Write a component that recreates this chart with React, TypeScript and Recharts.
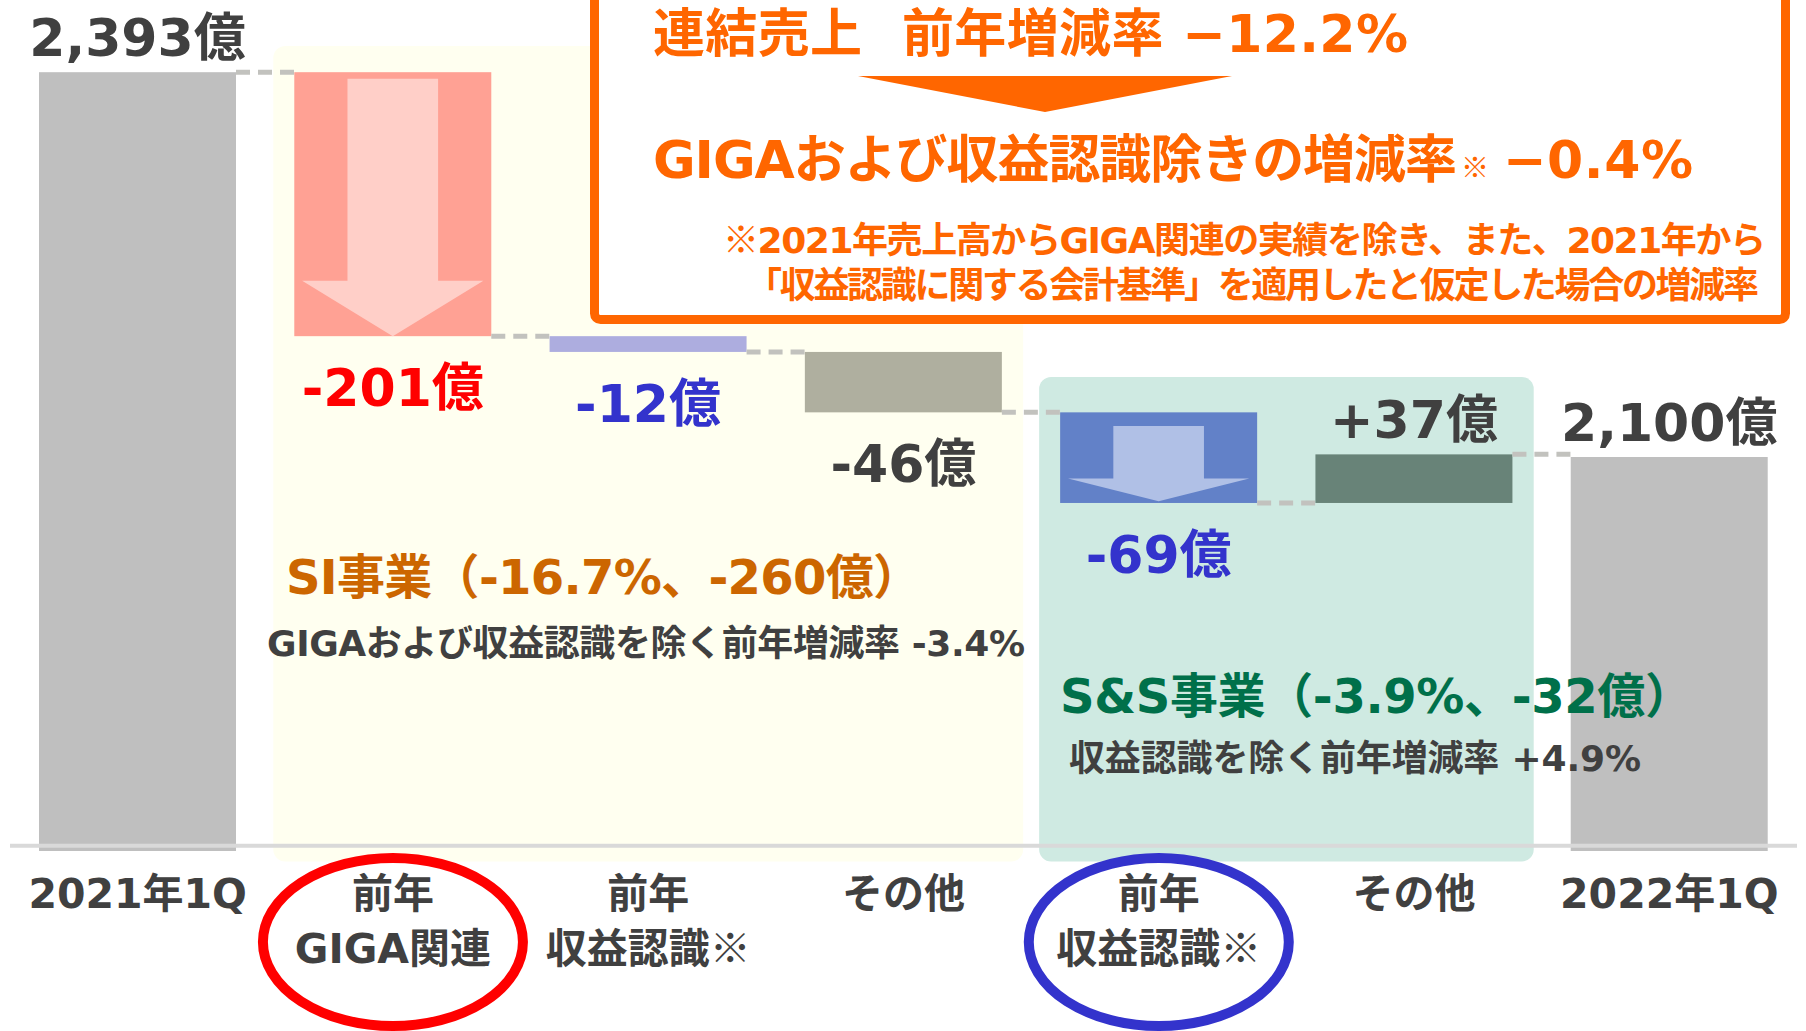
import React from 'react';
import { BarChart, Bar, XAxis, YAxis, ReferenceArea, ReferenceLine } from 'recharts';

// Latin/digits from DejaVu (close to the Meiryo look), kana/kanji fall back to Noto CJK
const FONT = "'DejaVu Sans', 'Noto Sans CJK JP', sans-serif";
const CJK = "'Noto Sans CJK JP', sans-serif";

// 億円, 2021年1Q → 2022年1Q
const categories = ['2021年1Q', '前年\nGIGA関連', '前年\n収益認識※', 'その他', '前年\n収益認識※', 'その他', '2022年1Q'];
const changes = [2393, -201, -12, -46, -69, 37, 2100];
const isTotal = [true, false, false, false, false, false, true];
const valueLabels = ['2,393億', '-201億', '-12億', '-46億', '-69億', '+37億', '2,100億'];

const barColors = ['#BFBFBF', '#FFA194', '#ADADDF', '#AFAF9F', '#6281C8', '#688378', '#BFBFBF'];
const labelColors = ['#404040', '#FF0000', '#3333CC', '#404040', '#3333CC', '#404040', '#404040'];
const arrowColors = ['', '#FFCFC8', '', '', '#B0C0E6', '', ''];
const circleColors = ['', '#FF0000', '', '', '#3333CC', '', ''];

// y axis is cut: it starts at 1,800億
const axisMin = 1800;
const axisMax = 2400;
const baseLineValue = 1804;

// segment boxes (category keys, value range)
const siBox = { from: 'c1', to: 'c3', low: 1792, high: 2413 };
const ssBox = { from: 'c4', to: 'c5', low: 1792, high: 2161 };

const BAR_GAP = 29;

// arrow proportions inside the "前年" bars
const arrowForm: Record<number, { shaftTop: number; headTop: number; tip: number }> = {
  1: { shaftTop: 0.025, headTop: 0.79, tip: 1.0 },
  4: { shaftTop: 0.15, headTop: 0.73, tip: 0.98 },
};

let running = 0;
const data = categories.map((name, i) => {
  const key = `c${i}`;
  if (isTotal[i]) {
    running = changes[i];
    return { key, name, value: changes[i], endTop: true };
  }
  const start = running;
  const end = running + changes[i];
  running = end;
  return { key, name, value: [Math.min(start, end), Math.max(start, end)], endTop: changes[i] > 0 };
});

// ※ should come from the CJK font, not DejaVu
const withMark = (t: string) =>
  t.split('※').flatMap((part, k) =>
    k === 0 ? [part] : [<tspan key={k} fontFamily={CJK}>※</tspan>, part]
  );

const WaterfallBar = (props: any) => {
  const { x, y, width, height, index, payload } = props;
  const top = Math.min(y, y + height);
  const h = Math.abs(height);
  const endY = payload.endTop ? top : top + h;
  const form = arrowForm[index];
  const cx = x + width / 2;
  return (
    <g>
      <rect x={x} y={top} width={width} height={h} fill={barColors[index]} />
      {form && arrowColors[index] && (
        <polygon
          fill={arrowColors[index]}
          points={[
            [x + width * 0.27, top + h * form.shaftTop],
            [x + width * 0.73, top + h * form.shaftTop],
            [x + width * 0.73, top + h * form.headTop],
            [x + width * 0.96, top + h * form.headTop],
            [cx, top + h * form.tip],
            [x + width * 0.04, top + h * form.headTop],
            [x + width * 0.27, top + h * form.headTop],
          ]
            .map((p) => p.join(','))
            .join(' ')}
        />
      )}
      {index < categories.length - 1 && (
        <line
          x1={x + width}
          x2={x + width + BAR_GAP * 2}
          y1={endY}
          y2={endY}
          stroke="#C2C2BE"
          strokeWidth={5}
          strokeDasharray="14 8"
        />
      )}
      <text
        x={cx}
        y={payload.endTop ? top - 16 : top + h + 70}
        textAnchor="middle"
        fontFamily={FONT}
        fontWeight={700}
        fontSize={52}
        fill={labelColors[index]}
      >
        {valueLabels[index]}
      </text>
    </g>
  );
};

const CategoryTick = (props: any) => {
  const { x, y, payload } = props;
  const i = payload.index ?? props.index;
  const lines = categories[i].split('\n');
  return (
    <g>
      {circleColors[i] && (
        <ellipse cx={x} cy={y + 91} rx={130} ry={84} fill="none" stroke={circleColors[i]} strokeWidth={10} />
      )}
      {lines.map((t, k) => (
        <text
          key={k}
          x={x}
          y={y + 57 + k * 55}
          textAnchor="middle"
          fontFamily={FONT}
          fontWeight={700}
          fontSize={41}
          fill="#404040"
        >
          {withMark(t)}
        </text>
      ))}
    </g>
  );
};

const roundedBox = (fill: string) => (p: any) => (
  <rect x={p.x + 8} y={p.y} width={p.width - 16} height={p.height} rx={12} fill={fill} />
);

const orange = '#FF6600';

export default function App() {
  return (
    <div style={{ position: 'absolute', left: 0, top: 0, width: 1806, height: 1031, background: '#fff' }}>
      <BarChart
        width={1806}
        height={1031}
        data={data}
        margin={{ top: 63, right: 9, bottom: 0, left: 10 }}
        barCategoryGap={BAR_GAP}
      >
        <XAxis
          dataKey="key"
          height={180}
          axisLine={false}
          tickLine={false}
          tickSize={0}
          tickMargin={0}
          interval={0}
          tick={<CategoryTick />}
        />
        <YAxis hide type="number" domain={[axisMin, axisMax]} />
        <ReferenceArea
          x1={siBox.from}
          x2={siBox.to}
          y1={siBox.low}
          y2={siBox.high}
          ifOverflow="visible"
          shape={roundedBox('#FFFFF0')}
        />
        <ReferenceArea
          x1={ssBox.from}
          x2={ssBox.to}
          y1={ssBox.low}
          y2={ssBox.high}
          ifOverflow="visible"
          shape={roundedBox('#CFEAE2')}
        />
        <Bar dataKey="value" isAnimationActive={false} shape={<WaterfallBar />} />
        <ReferenceLine y={baseLineValue} stroke="#D9D9D9" strokeWidth={4} />
      </BarChart>

      <svg
        width={1806}
        height={1031}
        style={{ position: 'absolute', left: 0, top: 0, pointerEvents: 'none' }}
        fontFamily={FONT}
        fontWeight={700}
      >
        {/* callout */}
        <rect x={594.5} y={-20} width={1191} height={339.5} rx={6} fill="#fff" stroke={orange} strokeWidth={9} />
        <text x={653} y={52} fontSize={52} fill={orange} textLength={209} lengthAdjust="spacing">
          連結売上
        </text>
        <text x={902} y={52} fontSize={52} fill={orange} textLength={506} lengthAdjust="spacing">
          前年増減率 −12.2%
        </text>
        <polygon points="858,76 1232,76 1045,112" fill={orange} />
        <text x={653} y={178} fontSize={52} fill={orange} textLength={804} lengthAdjust="spacing">
          GIGAおよび収益認識除きの増減率
        </text>
        <text x={1461} y={178} fontSize={28} fill={orange} fontFamily={CJK}>
          ※
        </text>
        <text x={1503} y={178} fontSize={52} fill={orange} textLength={190} lengthAdjust="spacing">
          −0.4%
        </text>
        <text x={723} y={253} fontSize={36} fill={orange} textLength={1043} lengthAdjust="spacing">
          {withMark('※2021年売上高からGIGA関連の実績を除き、また、2021年から')}
        </text>
        <text x={746} y={298} fontSize={36} fill={orange} textLength={1013} lengthAdjust="spacing">
          「収益認識に関する会計基準」を適用したと仮定した場合の増減率
        </text>

        {/* segment notes */}
        <text x={286} y={594} fontSize={48} fill="#CC6600" textLength={635} lengthAdjust="spacing">
          SI事業（-16.7%、-260億）
        </text>
        <text x={267} y={656} fontSize={36} fill="#404040" textLength={758} lengthAdjust="spacing">
          GIGAおよび収益認識を除く前年増減率 -3.4%
        </text>
        <text x={1060} y={713} fontSize={48} fill="#00704A" textLength={633} lengthAdjust="spacing">
          S&amp;S事業（-3.9%、-32億）
        </text>
        <text x={1069} y={771} fontSize={36} fill="#404040" textLength={572} lengthAdjust="spacing">
          収益認識を除く前年増減率 +4.9%
        </text>
      </svg>
    </div>
  );
}
